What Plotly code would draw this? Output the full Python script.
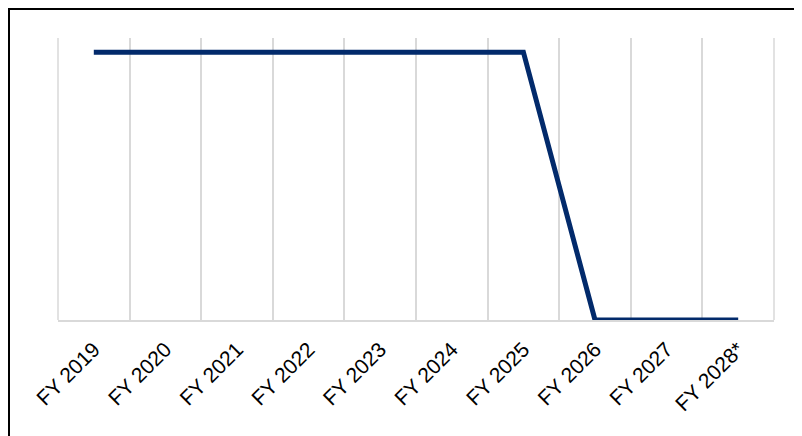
import plotly.graph_objects as go

categories = ["FY 2019", "FY 2020", "FY 2021", "FY 2022", "FY 2023",
              "FY 2024", "FY 2025", "FY 2026", "FY 2027", "FY 2028*"]
values = [100, 100, 100, 100, 100, 100, 100, 0, 0, 0]

# page body has an 8px margin, so figure coords = screen coords - 8
OFF = 8
W, H = 802, 436
L, T = 58 - OFF, 38 - OFF
R = W - (774 - OFF)
B = H - (320 - OFF)
pw, ph = W - L - R, H - T - B

fig = go.Figure()
fig.add_trace(go.Scatter(
    x=categories, y=values, mode="lines",
    line=dict(color="#022a6b", width=5),
    hoverinfo="skip", showlegend=False,
))

def px_to_paper_x(px):
    return (px - OFF - L) / pw

def px_to_paper_y(py):
    return (H - B - (py - OFF)) / ph

# outer frame
fig.add_shape(type="rect", xref="paper", yref="paper",
              x0=px_to_paper_x(9), x1=px_to_paper_x(840),
              y0=px_to_paper_y(480), y1=px_to_paper_y(9),
              line=dict(color="black", width=2), fillcolor="rgba(0,0,0,0)",
              layer="above")
# edge gridlines of plot area
for xe in (0, 1):
    fig.add_shape(type="line", xref="paper", yref="paper",
                  x0=xe, x1=xe, y0=0, y1=1,
                  line=dict(color="#d9d9d9", width=1.5), layer="below")

fig.update_layout(
    width=W, height=H,
    margin=dict(l=L, r=R, t=T, b=B, pad=0, autoexpand=False),
    paper_bgcolor="white", plot_bgcolor="white",
    font=dict(family="Liberation Sans", size=21, color="black"),
    xaxis=dict(
        type="category", tickson="boundaries", ticks="",
        showgrid=True, gridcolor="#d9d9d9", gridwidth=1.5,
        showline=True, linecolor="#d9d9d9", linewidth=1.5,
        tickangle=-45, tickfont=dict(family="Liberation Sans", size=21, color="black"),
        ticklabelstandoff=7,
        range=[-0.5, 9.5], fixedrange=True, automargin=False,
    ),
    yaxis=dict(
        range=[0, 105.3], showgrid=False, showticklabels=False,
        zeroline=False, showline=False, ticks="", fixedrange=True,
        automargin=False,
    ),
)

fig.write_html("out.html")
